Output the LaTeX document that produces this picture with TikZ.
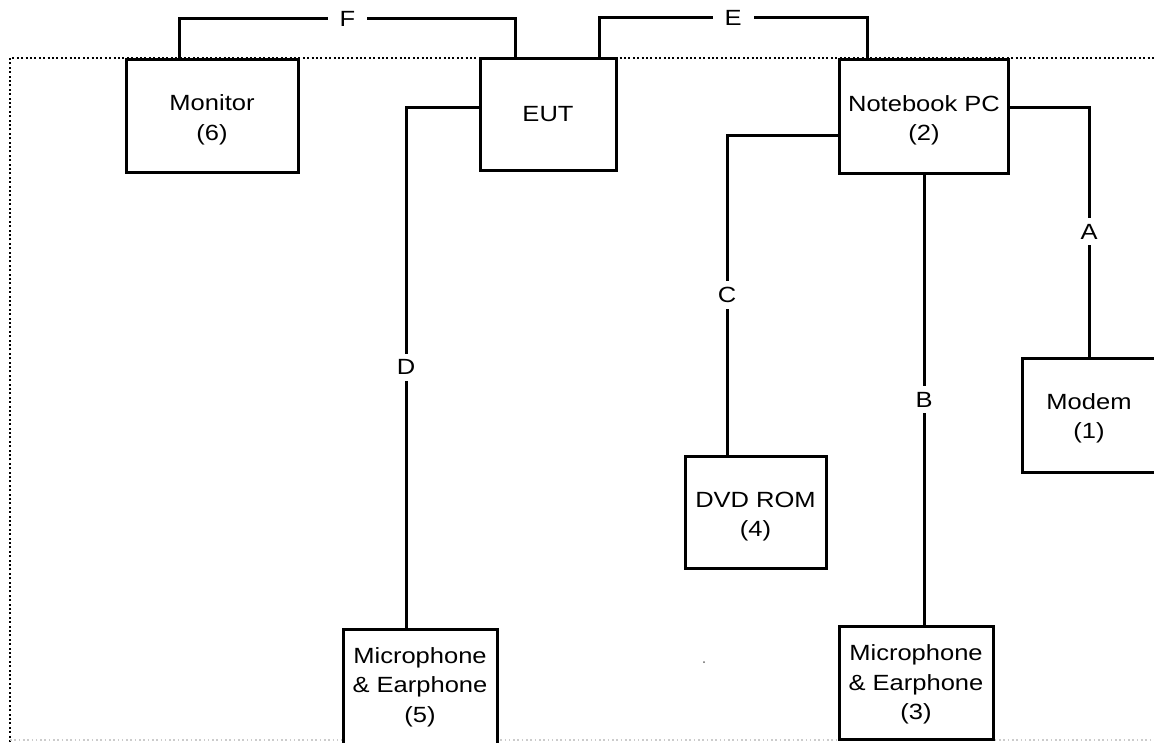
\documentclass[tikz,border=0pt]{standalone}
\usepackage{fontspec}
\setmainfont{Liberation Sans}[FakeStretch=1.16]
\newcommand\dn[2]{\raisebox{-#1}[\height][\depth]{\begin{tabular}{@{}c@{}}#2\end{tabular}}}
\begin{document}
\begin{tikzpicture}[x=1pt,y=-1pt,
  box/.style={draw=black,line width=3pt,fill=white,align=center,inner sep=0pt,
    font=\fontsize{22}{29.5}\selectfont},
  conn/.style={line width=3pt,black},
  lbl/.style={fill=white,inner xsep=12pt,inner ysep=6pt,font=\fontsize{22}{26}\selectfont}]
\useasboundingbox (0,0) rectangle (1154,742);
% dotted enclosure
\draw[line width=2.5pt,dash pattern=on 2pt off 2.4pt,black] (10,742) -- (10,58) -- (1160,58);
\draw[line width=1.2pt,dash pattern=on 1.6pt off 2.7pt,black!20] (10,740) -- (1160,740);
% boxes
\node[box,minimum width=172pt,minimum height=113pt] (mon) at (212,115.5) {\dn{4pt}{Monitor\\(6)}};
\node[box,minimum width=136pt,minimum height=112pt] (eut) at (548,114) {EUT};
\node[box,minimum width=169pt,minimum height=114pt] (nb) at (924,116) {\dn{4pt}{Notebook PC\\(2)}};
\node[box,minimum width=134pt,minimum height=114pt] (modem) at (1089,415) {\dn{3pt}{Modem\\(1)}};
\node[box,minimum width=141pt,minimum height=112pt] (dvd) at (755.5,512) {\dn{4pt}{DVD ROM\\(4)}};
\node[box,minimum width=154pt,minimum height=113pt] (mic3) at (916,682.5) {\dn{2pt}{Microphone\\\&\ Earphone\\(3)}};
\node[box,minimum width=154pt,minimum height=116pt] (mic5) at (420,687) {Microphone\\\&\ Earphone\\(5)};
% connectors
\draw[conn] ([xshift=55pt]mon.north west) -- ++(0,-39) -| node[lbl,pos=.25]{F} ([xshift=37pt]eut.north west);
\draw[conn] ([xshift=121pt]eut.north west) -- ++(0,-39) -| node[lbl,pos=.25]{E} ([xshift=29pt]nb.north west);
\draw[conn] ([yshift=9pt]nb.east) -| node[lbl,pos=.75]{A} (modem.north);
\draw[conn] (nb.south) -- node[lbl]{B} (nb.south |- mic3.north);
\draw[conn] ([yshift=-19pt]nb.west) -| node[lbl,pos=.75]{C} ([xshift=-28.5pt]dvd.north);
\draw[conn] ([yshift=7pt]eut.west) -| node[lbl,pos=.75]{D} ([xshift=-14pt]mic5.north);
% small speck
\fill[black!60] (704,662) circle (1pt);
\end{tikzpicture}
\end{document}
